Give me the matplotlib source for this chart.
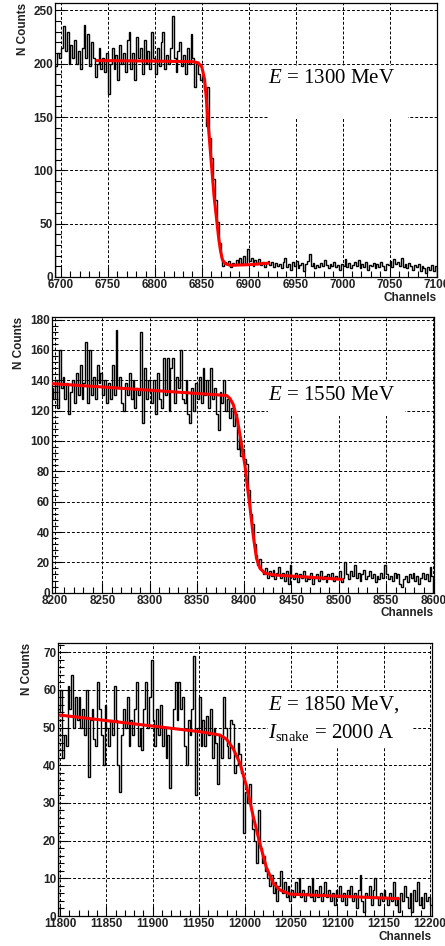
import numpy as np
import matplotlib
matplotlib.use("Agg")
import matplotlib.pyplot as plt
from matplotlib.patches import Rectangle
from matplotlib.ticker import MultipleLocator

plt.rcParams['mathtext.fontset'] = 'custom'
plt.rcParams['mathtext.rm'] = 'Liberation Serif'
plt.rcParams['mathtext.it'] = 'Liberation Serif:italic'

# ---- histogram data (2-channel bins) ----
bin_w = 2

start_1300 = 6694
counts_1300 = [
    198, 210, 205, 215, 235, 212, 230, 200, 218, 205,
    222, 200, 212, 195, 215, 236, 205, 228, 198, 220,
    205, 188, 200, 215, 195, 205, 192, 210, 172, 200,
    215, 195, 208, 185, 218, 200, 210, 192, 222, 230,
    195, 210, 185, 225, 205, 215, 190, 222, 200, 212,
    195, 230, 205, 190, 215, 198, 220, 230, 195, 208,
    200, 215, 245, 205, 192, 212, 220, 198, 208, 190,
    215, 200, 228, 205, 178, 200, 190, 185, 188, 175,
    142, 178, 130, 112, 92, 72, 52, 32, 18, 10,
    14, 12, 15, 9, 13, 11, 16, 12, 18, 13,
    20, 12, 26, 15, 18, 10, 16, 12, 17, 11,
    14, 9, 13, 15, 11, 14, 9, 13, 10, 12,
    8, 14, 18, 9, 12, 7, 14, 10, 15, 8,
    11, 13, 6, 12, 15, 22, 10, 13, 8, 11,
    9, 13, 10, 16, 11, 8, 12, 10, 14, 9,
    11, 7, 12, 10, 17, 9, 13, 8, 11, 14,
    10, 16, 8, 12, 9, 14, 7, 11, 10, 13,
    8, 12, 9, 14, 10, 7, 12, 11, 15, 9,
    17, 12, 14, 10, 18, 9, 12, 8, 13, 10,
    7, 11, 9, 12, 6, 10, 8, 4, 9, 7,
    11, 6, 10,
]

start_1550 = 8196
counts_1550 = [
    135, 128, 140, 122, 160, 135, 142, 128, 138, 118,
    132, 140, 125, 145, 130, 150, 128, 138, 165, 125,
    160, 130, 142, 128, 150, 138, 145, 130, 140, 125,
    138, 128, 150, 130, 173, 135, 142, 125, 120, 138,
    130, 145, 128, 140, 122, 135, 130, 172, 112, 148,
    128, 140, 132, 125, 140, 118, 145, 128, 122, 155,
    130, 155, 120, 148, 155, 125, 142, 135, 160, 128,
    125, 140, 118, 112, 135, 120, 138, 128, 142, 125,
    148, 130, 140, 122, 148, 128, 135, 118, 107, 132,
    125, 140, 120, 128, 115, 122, 110, 118, 95, 102,
    90, 95, 88, 85, 68, 52, 45, 32, 25, 18,
    22, 15, 12, 16, 10, 14, 11, 15, 9, 13,
    17, 10, 13, 8, 14, 6, 18, 11, 9, 13,
    7, 12, 10, 14, 8, 11, 9, 13, 6, 10,
    12, 8, 14, 9, 11, 7, 12, 10, 13, 8,
    11, 9, 14, 7, 10, 20, 12, 9, 14, 11,
    18, 10, 13, 8, 12, 15, 9, 11, 14, 10,
    12, 7, 11, 9, 13, 10, 18, 12, 9, 11,
    8, 13, 10, 12, 6, 4, 9, 11, 7, 12,
    10, 13, 8, 11, 6, 10, 13, 9, 12, 8,
    17, 11,
]

start_1850 = 11798
counts_1850 = [
    55, 60, 42, 48, 45, 61, 55, 64, 50, 58,
    52, 58, 50, 55, 48, 60, 37, 52, 55, 47,
    45, 62, 55, 48, 40, 56, 50, 45, 52, 48,
    61, 52, 40, 33, 48, 55, 50, 58, 45, 52,
    48, 55, 62, 45, 50, 44, 55, 62, 50, 58,
    68, 52, 45, 55, 48, 56, 45, 50, 42, 48,
    34, 50, 55, 62, 52, 62, 55, 58, 45, 40,
    52, 48, 55, 69, 32, 50, 58, 45, 52, 45,
    53, 48, 55, 42, 50, 46, 35, 48, 42, 58,
    50, 45, 42, 52, 51, 38, 40, 46, 43, 38,
    22, 33, 30, 35, 28, 23, 20, 14, 28, 18,
    14, 16, 12, 10, 8, 11, 6, 9, 4, 8,
    12, 6, 9, 5, 8, 4, 7, 5, 9, 6,
    10, 5, 7, 4, 6, 8, 5, 10, 4, 7,
    5, 8, 4, 6, 9, 5, 7, 4, 6, 3,
    7, 5, 8, 4, 6, 3, 7, 5, 8, 4,
    6, 2, 7, 11, 4, 1, 6, 5, 8, 3,
    7, 10, 5, 3, 6, 4, 7, 5, 3, 6,
    4, 9, 3, 5, 1, 6, 4, 8, 5, 2,
    6, 1, 7, 4, 9, 3, 5, 2, 6, 4,
    5, 3,
]

# ---- fit curves ----
fit_x_1300 = [6738, 6800, 6840, 6846, 6850, 6853, 6855, 6857, 6860, 6863,
              6866, 6868, 6870, 6872, 6875, 6880, 6900, 6921]
fit_y_1300 = [203, 202.5, 202, 201, 197, 185, 165, 141, 108, 76,
              52, 36, 24, 16, 12.5, 11, 11.5, 13]

fit_x_1550 = [8197.5, 8300, 8381.5, 8385, 8388.5, 8392.8, 8397, 8401, 8403, 8406,
              8409.7, 8413, 8416.7, 8422, 8431, 8503]
fit_y_1550 = [137.8, 133.5, 130, 128, 124, 114, 98.6, 83, 72, 57,
              37, 22.7, 16, 12.8, 11.7, 8.8]

fit_x_1850 = [11800, 11951, 11973, 11980, 11987, 11994.6, 12001.8, 12009, 12016, 12023,
              12030.6, 12037.8, 12048.6, 12166]
fit_y_1850 = [53.3, 48.9, 48, 46.9, 44.5, 40.5, 34.3, 26.3, 19.3, 13,
              8.7, 6.9, 5.8, 4.6]

panels = [
    dict(start=start_1300, counts=counts_1300, fx=fit_x_1300, fy=fit_y_1300,
         rect=[0.1236, 0.7072, 0.8584, 0.2896], xlim=(6693.6, 7100.5), ylim=(0, 257),
         ymaj=50, ymin=10, xticks=[6700, 6750, 6800, 6850, 6900, 6950, 7000, 7050, 7100],
         label=r'$\mathit{E}$ = 1300 MeV', text_y=[0.726],
         box=(0.558, 0.580, 0.366, 0.190)),
    dict(start=start_1550, counts=counts_1550, fx=fit_x_1550, fy=fit_y_1550,
         rect=[0.1162, 0.3735, 0.8591, 0.2918], xlim=(8196.5, 8600.7), ylim=(0, 182),
         ymaj=20, ymin=4, xticks=[8200, 8250, 8300, 8350, 8400, 8450, 8500, 8550, 8600],
         label=r'$\mathit{E}$ = 1550 MeV', text_y=[0.713],
         box=(0.566, 0.640, 0.358, 0.127)),
    dict(start=start_1850, counts=counts_1850, fx=fit_x_1850, fy=fit_y_1850,
         rect=[0.1310, 0.0317, 0.8391, 0.2889], xlim=(11798, 12202), ylim=(0, 72.5),
         ymaj=10, ymin=2, xticks=[11800, 11850, 11900, 11950, 12000, 12050, 12100, 12150, 12200],
         label=None, text_y=[0.772, 0.670],
         box=(0.562, 0.615, 0.385, 0.210)),
]

fig = plt.figure(figsize=(4.45, 9.46), dpi=100)

for p in panels:
    ax = fig.add_axes(p['rect'])
    vals = np.array(p['counts'], dtype=float)
    edges = p['start'] + bin_w * np.arange(len(vals) + 1)
    ax.stairs(vals, edges, color='black', lw=1.0, zorder=3)
    ax.plot(p['fx'], p['fy'], color='red', lw=2.2, zorder=4, solid_capstyle='round')

    ax.set_xlim(*p['xlim'])
    ax.set_ylim(*p['ylim'])
    ax.set_xticks(p['xticks'])
    ax.xaxis.set_minor_locator(MultipleLocator(10))
    ax.yaxis.set_major_locator(MultipleLocator(p['ymaj']))
    ax.yaxis.set_minor_locator(MultipleLocator(p['ymin']))
    ax.tick_params(which='both', direction='in', top=False, right=False, width=0.8)
    ax.tick_params(which='major', length=7, pad=1.5, labelsize=8.5)
    ax.tick_params(which='minor', length=4)
    for lab in ax.get_xticklabels() + ax.get_yticklabels():
        lab.set_fontfamily('Liberation Sans')
        lab.set_fontweight('bold')
        lab.set_color('#222222')
    ax.grid(True, which='major', ls=(0, (3, 2)), color='black', lw=0.7)
    for s in ax.spines.values():
        s.set_linewidth(0.9)

    # white label box over the grid
    bx, by, bw, bh = p['box']
    ax.add_patch(Rectangle((bx, by), bw, bh, transform=ax.transAxes,
                           facecolor='white', edgecolor='none', zorder=2.5))

    ax.text(-0.085, 1.0, 'N Counts', transform=ax.transAxes, rotation=90,
            ha='center', va='top', fontsize=8.5, fontweight='bold',
            family='Liberation Sans', color='#222222')
    ax.text(1.0, -0.075, 'Channels', transform=ax.transAxes, ha='right', va='center',
            fontsize=8.5, fontweight='bold', family='Liberation Sans', color='#222222')

    if p['label'] is not None:
        ax.text(bx, p['text_y'][0], p['label'], transform=ax.transAxes,
                ha='left', va='center', fontsize=15, family='Liberation Serif', zorder=5)
    else:
        ax.text(bx, p['text_y'][0], r'$\mathit{E}$ = 1850 MeV,', transform=ax.transAxes,
                ha='left', va='center', fontsize=15, family='Liberation Serif', zorder=5)
        ax.text(bx, p['text_y'][1], r'$\mathit{I}_{\mathrm{snake}}$ = 2000 A',
                transform=ax.transAxes, ha='left', va='center', fontsize=15,
                family='Liberation Serif', zorder=5)

fig.savefig('out.png', dpi=100)
